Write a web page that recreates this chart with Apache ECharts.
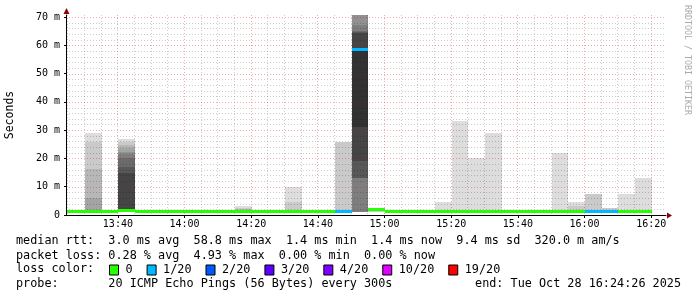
<!DOCTYPE html>
<html><head><meta charset="utf-8">
<script src="https://cdn.jsdelivr.net/npm/echarts@6/dist/echarts.min.js"></script>
<style>html,body{margin:0;padding:0;background:#fff}#c{width:697px;height:297px}</style>
</head><body><div id="c"></div>
<script>
// ---------- data ----------
const rangeStart = '13:24:26';
const rangeEnd = '16:24:26';
const stepMinutes = 5;
const yMax = 70.7; // ms at the top of the plot

// start of each 5-minute step
const stepStarts = ['13:20','13:25','13:30','13:35','13:40','13:45','13:50','13:55','14:00','14:05','14:10','14:15',
  '14:20','14:25','14:30','14:35','14:40','14:45','14:50','14:55','15:00','15:05','15:10','15:15',
  '15:20','15:25','15:30','15:35','15:40','15:45','15:50','15:55','16:00','16:05','16:10','16:15','16:20'];

// median rtt per step (ms)
const medianMs = [1.4,1.4,1.4,1.4,1.7,1.4,1.4,1.4,1.4,1.4,1.4,1.4,
  1.4,1.4,1.4,1.4,1.4,1.4,58.8,2.1,1.4,1.4,1.4,1.4,
  1.4,1.4,1.4,1.4,1.4,1.4,1.4,1.4,1.4,1.4,1.4,1.4,null];

// lost pings (of 20) per step
const lossCount = [0,0,0,0,0,0,0,0,0,0,0,0,
  0,0,0,0,0,1,1,0,0,0,0,0,
  0,0,0,0,0,0,0,0,1,1,0,0,null];

// sorted ping times per step (ms); null = lost ping; null step = no visible smoke
const smokePings = [
  null, // 13:20
  null, // 13:25
  [1.3,1.3,1.3,1.3,1.4,1.4,1.4,1.4,1.4,1.4,1.4,1.4,1.5,1.5,1.5,1.6,6.0,16.2,25.7,29.0], // 13:30
  null, // 13:35
  [1.4,1.5,1.5,1.6,1.6,1.6,1.7,1.7,1.7,1.7,1.8,14.8,17.0,20.1,21.5,22.4,23.6,24.7,25.9,26.9], // 13:40
  null, null, null, null, null, null, // 13:45 - 14:10
  [1.3,1.3,1.3,1.4,1.4,1.4,1.4,1.5,1.5,1.5,1.5,1.5,1.5,1.6,1.6,1.6,1.7,2.0,2.5,3.2], // 14:15
  null, null, // 14:20, 14:25
  [1.3,1.3,1.4,1.4,1.4,1.4,1.4,1.5,1.5,1.5,1.5,1.5,1.5,1.5,1.6,1.6,1.7,1.8,4.7,9.8], // 14:30
  null, null, // 14:35, 14:40
  [1.3,1.3,1.3,1.4,1.4,1.4,1.4,1.4,1.4,1.4,1.4,1.5,1.5,1.5,1.5,1.6,1.6,1.8,25.9,null], // 14:45
  [1.2,1.2,1.2,1.2,1.2,1.2,13.0,13.0,19.0,31.0,59.0,64.3,64.6,64.9,67.1,72.0,72.0,72.0,72.0,null], // 14:50
  [1.2,1.2,1.3,1.4,1.5,1.6,1.8,1.9,2.0,2.1,2.1,2.2,2.2,2.3,2.3,2.4,2.4,2.5,2.5,2.6], // 14:55
  null, null, null, // 15:00 - 15:10
  [1.3,1.3,1.3,1.4,1.4,1.4,1.4,1.4,1.5,1.5,1.5,1.5,1.5,1.5,1.6,1.6,1.6,1.7,1.8,4.5], // 15:15
  [1.3,1.3,1.3,1.4,1.4,1.4,1.4,1.4,1.5,1.5,1.5,1.5,1.5,1.5,1.6,1.6,1.6,1.7,1.8,33.3], // 15:20
  [1.3,1.3,1.3,1.4,1.4,1.4,1.4,1.4,1.5,1.5,1.5,1.5,1.5,1.5,1.6,1.6,1.6,1.7,1.8,20.3], // 15:25
  [1.3,1.3,1.3,1.4,1.4,1.4,1.4,1.4,1.5,1.5,1.5,1.5,1.5,1.5,1.6,1.6,1.6,1.7,1.8,29.1], // 15:30
  null, null, null, // 15:35 - 15:45
  [1.3,1.3,1.3,1.4,1.4,1.4,1.4,1.4,1.5,1.5,1.5,1.5,1.5,1.5,1.6,1.6,1.6,1.7,1.8,22.0], // 15:50
  [1.3,1.3,1.3,1.4,1.4,1.4,1.4,1.4,1.5,1.5,1.5,1.5,1.5,1.5,1.6,1.6,1.6,1.7,3.2,4.5], // 15:55
  [1.3,1.3,1.3,1.4,1.4,1.4,1.4,1.4,1.4,1.4,1.4,1.5,1.5,1.5,1.5,1.6,1.6,1.8,7.4,null], // 16:00
  [1.3,1.3,1.3,1.4,1.4,1.4,1.4,1.4,1.4,1.4,1.4,1.5,1.5,1.5,1.5,1.6,1.6,1.8,2.6,null], // 16:05
  [1.3,1.3,1.3,1.4,1.4,1.4,1.4,1.4,1.5,1.5,1.5,1.5,1.5,1.5,1.6,1.6,1.6,1.7,1.8,7.3], // 16:10
  [1.3,1.3,1.3,1.4,1.4,1.4,1.4,1.4,1.5,1.5,1.5,1.5,1.5,1.5,1.6,1.6,1.6,1.7,1.8,13.2], // 16:15
  null // 16:20
];

const xTickLabels = ['13:40','14:00','14:20','14:40','15:00','15:20','15:40','16:00','16:20'];
const yTickValues = [0,10,20,30,40,50,60,70];
const yTickLabels = ['0','10 m','20 m','30 m','40 m','50 m','60 m','70 m'];
const yMinorStep = 2;

const lossLevels = [0,1,2,3,4,10,19];
const lossLabels = ['0','1/20','2/20','3/20','4/20','10/20','19/20'];
const lossColors = ['#26ff00','#00b8ff','#0059ff','#5e00ff','#7e00ff','#dd00ff','#ff0000'];

const statLines = [
  'median rtt:  3.0 ms avg  58.8 ms max  1.4 ms min  1.4 ms now  9.4 ms sd  320.0 m am/s',
  'packet loss: 0.28 % avg  4.93 % max  0.00 % min  0.00 % now',
  'loss color:',
  'probe:       20 ICMP Echo Pings (56 Bytes) every 300s'
];
const endText = 'end: Tue Oct 28 16:24:26 2025';
const sideText = 'RRDTOOL / TOBI OETIKER';

// ---------- build ----------
const toMin = s => { const p = s.split(':').map(Number); return p[0]*60 + p[1] + (p[2]||0)/60; };
const xMin = toMin(rangeStart), xMax = toMin(rangeEnd);
const xTickValues = xTickLabels.map(toMin);
const MONO = 'DejaVu Sans Mono';

function grayHex(band, half){
  const g = Math.floor(190/half*(half-(band+1)))+50;
  const h = g.toString(16).padStart(2,'0');
  return '#'+h+h+h;
}

const smokeData = [];
smokePings.forEach((p,i)=>{
  if(!p) return;
  const t0 = toMin(stepStarts[i]), t1 = t0 + stepMinutes;
  const n = p.length, half = n/2;
  for(let b=0;b<half;b++){
    const lo = p[b], hi = p[n-1-b];
    if(lo==null || hi==null) continue;
    smokeData.push([t0,t1,lo,hi,b,half]);
  }
});

const gridData = [];
for(let t = toMin(stepStarts[0]); t < xMax; t += stepMinutes){
  if(t <= xMin) continue;
  gridData.push([0, t, xTickValues.indexOf(t) >= 0 ? 1 : 0]);
}
for(let v = yMinorStep; v <= yTickValues[yTickValues.length-1]; v += yMinorStep){
  gridData.push([1, v, yTickValues.indexOf(v) >= 0 ? 1 : 0]);
}

function levelIndex(c){ let k=0; lossLevels.forEach((l,j)=>{ if(c>=l) k=j; }); return k; }

function clampX(x, cs){ return Math.max(cs.x, Math.min(cs.x+cs.width, x)); }

const series = [];
series.push({
  type:'custom', name:'smoke', z:2, silent:true, data: smokeData, encode:{x:[0,1], y:[2,3]},
  renderItem(params, api){
    const cs = params.coordSys;
    const a = api.coord([api.value(0), api.value(2)]);
    const b = api.coord([api.value(1), Math.min(api.value(3), yMax)]);
    const x0 = Math.ceil(clampX(a[0],cs)), x1 = Math.ceil(clampX(b[0],cs));
    const y0 = Math.round(a[1]), y1 = Math.max(cs.y, Math.round(b[1]));
    if(x1<=x0 || y0<=y1) return;
    return {type:'rect', shape:{x:x0, y:y1, width:x1-x0, height:y0-y1},
      style:{fill: grayHex(api.value(4), api.value(5))}};
  }
});
series.push({
  type:'custom', name:'grid', z:3, silent:true, data: gridData,
  renderItem(params, api){
    const cs = params.coordSys;
    const orient = api.value(0), v = api.value(1), major = api.value(2);
    let shape;
    if(orient === 0){
      const x = Math.floor(api.coord([v, 0])[0]) + 0.5;
      shape = {x1:x, y1:cs.y, x2:x, y2:cs.y+cs.height};
    } else {
      const y = Math.round(api.coord([xMin, v])[1]) + 0.5;
      shape = {x1:cs.x, y1:y, x2:cs.x+cs.width, y2:y};
    }
    return {type:'line', shape, style:{stroke: major ? 'rgba(215,0,0,0.33)' : 'rgba(0,0,0,0.2)', lineWidth:1, lineDash:[1,2]}};
  }
});
lossLevels.forEach((lvl,k)=>{
  const data = [];
  medianMs.forEach((m,i)=>{
    if(m==null || lossCount[i]==null) return;
    if(levelIndex(lossCount[i]) !== k) return;
    const t0 = toMin(stepStarts[i]);
    data.push([t0, t0+stepMinutes, m]);
  });
  series.push({
    type:'custom', name: lossLabels[k], z:4, silent:true, data, encode:{x:[0,1], y:2},
    itemStyle:{color: lossColors[k]},
    renderItem(params, api){
      const cs = params.coordSys;
      const a = api.coord([api.value(0), api.value(2)]), b = api.coord([api.value(1), api.value(2)]);
      const y = Math.round(a[1]) + 0.5;
      return {type:'line', shape:{x1: Math.ceil(clampX(a[0],cs)), y1:y, x2: Math.ceil(clampX(b[0],cs)), y2:y},
        style:{stroke: lossColors[k], lineWidth:3}};
    }
  });
});

const chart = echarts.init(document.getElementById('c'), null, {renderer:'canvas'});
const option = {
  animation:false,
  backgroundColor:'#ffffff',
  grid:{left:66, top:15, width:600, height:200, containLabel:false, outerBoundsMode:'none'},
  xAxis:{type:'value', min:xMin, max:xMax, z:6,
    axisLine:{show:true, lineStyle:{color:'#000', width:1}},
    axisTick:{show:true, customValues:xTickValues, length:3, lineStyle:{color:'#000'}},
    axisLabel:{customValues:xTickValues, margin:4, fontFamily:MONO, fontSize:10, color:'#000',
      formatter: v => xTickLabels[xTickValues.indexOf(v)] || ''},
    splitLine:{show:false}},
  yAxis:{type:'value', min:0, max:yMax, z:6,
    name:'Seconds', nameLocation:'middle', nameGap:50, nameRotate:90,
    nameTextStyle:{fontFamily:MONO, fontSize:11.5, color:'#000'},
    axisLine:{show:true, lineStyle:{color:'#000', width:1}},
    axisTick:{show:true, customValues:yTickValues, length:2, lineStyle:{color:'#000'}},
    axisLabel:{customValues:yTickValues, margin:6, fontFamily:MONO, fontSize:10, color:'#000',
      formatter: v => yTickLabels[yTickValues.indexOf(v)] || ''},
    splitLine:{show:false}},
  legend:{show:true, left:109, top:264, padding:0, orient:'horizontal', icon:'rect', itemWidth:9, itemHeight:10, itemGap:14,
    selectedMode:false, data: lossLabels,
    itemStyle:{borderColor:'#000', borderWidth:1},
    textStyle:{fontFamily:MONO, fontSize:11.8, color:'#000', padding:[0,0,0,2]}},
  series
};
chart.setOption(option);

const o = chart.convertToPixel({gridIndex:0}, [xMin, 0]);
const e = chart.convertToPixel({gridIndex:0}, [xMax, yMax]);
const statY = [241, 255.5, 269, 283.5];
const graphics = statLines.map((t,i)=>({type:'text', x:16, y:statY[i], silent:true,
  style:{text:t, fontFamily:MONO, fontSize:11.8, fill:'#000', verticalAlign:'middle', align:'left'}}));
graphics.push({type:'text', x:681, y:statY[3], silent:true,
  style:{text:endText, fontFamily:MONO, fontSize:11.8, fill:'#000', verticalAlign:'middle', align:'right'}});
graphics.push({type:'text', x:687, y:5, rotation:-Math.PI/2, silent:true,
  style:{text:sideText, fontFamily:MONO, fontSize:8.3, fill:'#aaaaaa', verticalAlign:'middle', align:'left'}});
const ax = Math.round(o[0]) + 0.5, ay = Math.round(o[1]) + 0.5;
graphics.push({type:'polygon', silent:true, shape:{points:[[e[0]+1, ay-3],[e[0]+6, ay],[e[0]+1, ay+3]]}, style:{fill:'#8b0000'}});
graphics.push({type:'polygon', silent:true, shape:{points:[[ax-3, e[1]-1],[ax, e[1]-7],[ax+3, e[1]-1]]}, style:{fill:'#8b0000'}});
chart.setOption({graphic: graphics});
</script>
</body></html>
